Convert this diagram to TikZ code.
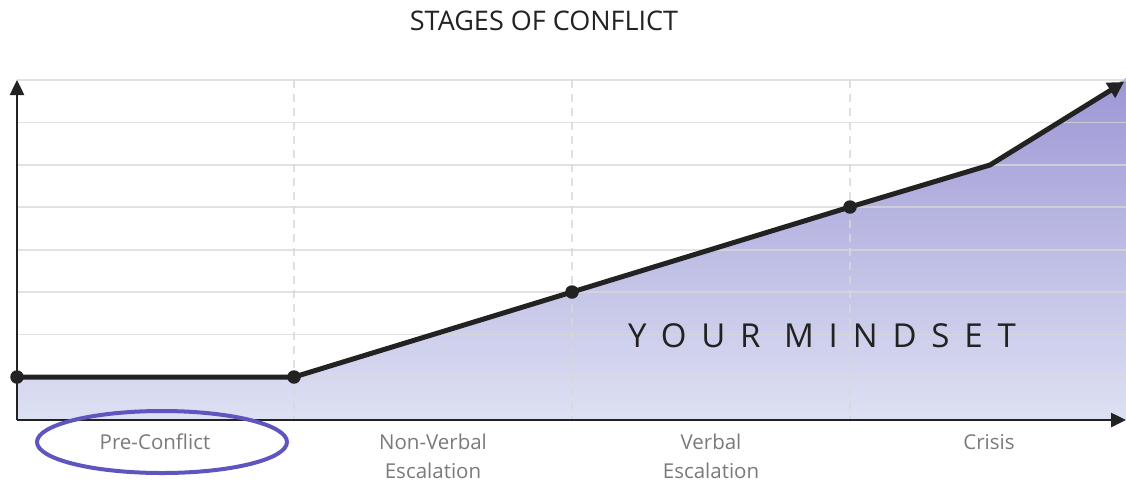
\documentclass[tikz,border=0pt]{standalone}
\usepackage{fontspec}
\setmainfont{Open Sans}
\usepackage{xcolor}
\usetikzlibrary{arrows.meta, positioning, shapes.geometric}
\definecolor{ink}{HTML}{222222}
\definecolor{gridgray}{HTML}{D8D8D8}
\definecolor{labelgray}{HTML}{7A7A7A}
\definecolor{ringblue}{HTML}{5F55BE}
\definecolor{fillhi}{HTML}{9D97D5}
\definecolor{filllo}{HTML}{DDE1F3}
\tikzset{
  dot/.style={circle, fill=ink, inner sep=0pt, minimum size=13.5pt},
  stage/.style={font=\fontsize{20.5}{29}\selectfont, text=labelgray, align=center},
  axis/.style={ink, line width=2.5pt, -{Triangle[length=15pt, width=14pt]}},
}

\begin{document}
\begin{tikzpicture}[x=1pt, y=-1pt]
\useasboundingbox (0,0) rectangle (1126,485);

% corner points
\coordinate (o) at (17,420);
\coordinate (ytop) at (17,80);
\coordinate (xend) at (1126,420);
\coordinate (p0) at (17,377);
\coordinate (p1) at (294,377);
\coordinate (p2) at (572,292);
\coordinate (p3) at (850,207);
\coordinate (p4) at (990,165);
\coordinate (tip) at (1124,82);

\shade[top color=fillhi, bottom color=filllo]
  (o) -- (p0) -- (p1) -- (p2) -- (p3) -- (p4) -- (1126,78) -- (xend) -- cycle;

% grid
\foreach \i in {0,...,7}
  \draw[gridgray, line width=1.8pt, opacity=0.75] (17,{80+42.4*\i}) -- (1126,{80+42.4*\i});
\foreach \x in {294,572,850}
  \draw[gridgray, line width=1.6pt, opacity=0.8, dash pattern=on 8pt off 6pt] (\x,80) -- (\x,420);

\draw[axis] (o) -- (ytop);
\draw[axis] (o) -- (xend);

\draw[ink, line width=5pt, line join=round, -{Triangle[length=16pt, width=17pt]}]
  (p0) -- (p1) -- (p2) -- (p3) -- (p4) -- (tip);
\foreach \n in {0,...,3}
  \node[dot] (d\n) at (p\n) {};

\node[font=\fontsize{27}{27}\selectfont, text=ink] (title) at (544,21) {STAGES OF CONFLICT};
\node[font=\fontsize{33}{33}\selectfont\addfontfeature{LetterSpace=45}, text=ink] (mind) at (822,336) {YOUR MINDSET};

\node[stage] (pre) at (155,442) {Pre-Conflict};
\node[stage] (nonverbal) at (433,456) {Non-Verbal\\Escalation};
\node[stage] (verbal) at (711,456) {Verbal\\Escalation};
\node[stage] (crisis) at (989,442) {Crisis};

\node[ellipse, draw=ringblue, line width=4pt, minimum width=250pt, minimum height=62pt] (ring) at (162,442) {};
\end{tikzpicture}
\end{document}
